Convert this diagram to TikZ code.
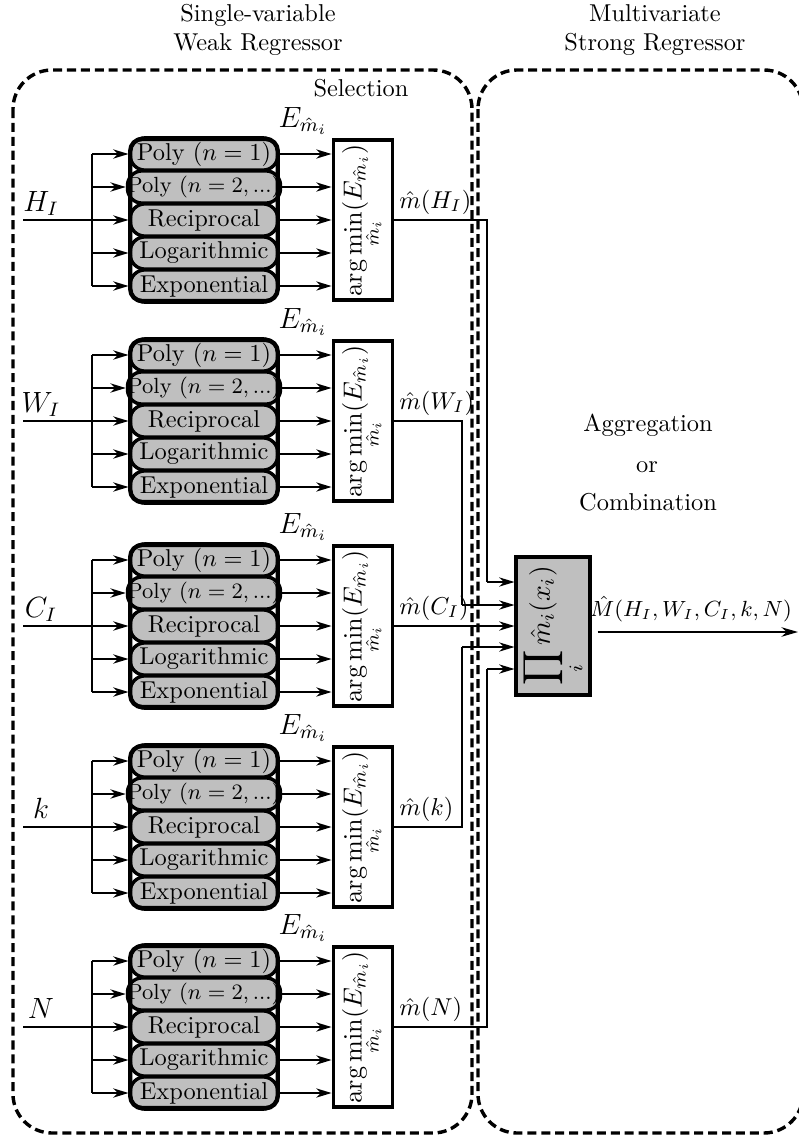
\documentclass[tikz,border=0pt]{standalone}
\usetikzlibrary{arrows.meta,calc}
\begin{document}
\begin{tikzpicture}[x=0.41pt,y=-0.41pt,
  pill/.style={draw, line width=1.4pt, fill=black!25, rounded corners=6pt,
    minimum width=60.5pt, minimum height=13.2pt, inner sep=0pt},
  cont/.style={draw, line width=1.8pt, rounded corners=5pt,
    minimum width=60.5pt, minimum height=66.5pt, inner sep=0pt},
  amin/.style={draw, line width=1.6pt, minimum width=24.2pt, minimum height=65.5pt, inner sep=0pt},
  prodbox/.style={draw, line width=1.6pt, fill=black!25, minimum width=30pt, minimum height=56.5pt, inner sep=0pt},
  arr/.style={-{Stealth[length=6.3pt,width=3.8pt,inset=2pt]}, line width=0.75pt},
  route/.style={line width=0.55pt},
  dbox/.style={draw, line width=1.4pt, dash pattern=on 3.7pt off 2pt, rounded corners=16pt},
  lbl/.style={inner sep=0pt}]
\useasboundingbox (0,0) rectangle (798,1138);

% dashed regions
\draw[dbox] (13,70) rectangle (472,1133);
\draw[dbox] (478,70) rectangle (803,1133);

% titles
\node[align=center] (t1) at (258,30) {Single-variable\\Weak Regressor};
\node[align=center] (t2) at (655,30) {Multivariate\\Strong Regressor};
\node (sel) at (361,88) {Selection};
\node (ag1) at (648,425) {Aggregation};
\node (ag2) at (647,467) {or};
\node (ag3) at (648,502) {Combination};

% product node
\node[prodbox] (prod) at (553,626) {\rotatebox{90}{\scalebox{1.13}{$\displaystyle\prod_i \hat{m}_i(x_i)$}}};

\foreach \i/\lab/\my in {1/H_I/220, 2/W_I/421, 3/C_I/626, 4/k/827, 5/N/1027}{
  \coordinate (in\i) at (23,\my);
  \coordinate (br\i) at (92,\my);
  \node[lbl, anchor=base] (lab\i) at (41,\my-9) {\large$\lab$};
  \node[pill] (p\i-1) at (204,\my-66) {Poly ($n=1$)};
  \node[pill] (p\i-2) at (204,\my-33) {\small Poly ($n=2,...$)};
  \node[pill] (p\i-3) at (204,\my) {Reciprocal};
  \node[pill] (p\i-4) at (204,\my+33) {Logarithmic};
  \node[pill] (p\i-5) at (204,\my+66) {Exponential};
  \node[cont] (c\i) at (204,\my) {};
  \node[amin] (am\i) at (363,\my) {\rotatebox{90}{\scalebox{1.07}{$\displaystyle\arg\min_{\hat{m}_i}(E_{\hat{m}_i})$}}};
  \node[lbl] (e\i) at (303,\my-99) {\large$E_{\hat{m}_i}$};
  \node[lbl, anchor=base west] (o\i) at (399,\my-12) {$\hat{m}(\lab)$};
  % inputs
  \draw[arr] (in\i) -- (p\i-3.west);
  \draw[line width=0.75pt] (br\i |- p\i-1.west) -- (br\i |- p\i-5.west);
  \foreach \r in {1,2,4,5}{
    \draw[arr] (br\i |- p\i-\r.west) -- (p\i-\r.west);
  }
  \foreach \r in {1,...,5}{
    \draw[arr] (p\i-\r.east) -- (am\i.west |- p\i-\r.east);
  }
}

% routes to product
\coordinate (jA) at (487,0);
\coordinate (jB) at (462,0);
\coordinate (q1) at ($(prod.west)+(0,-44)$);
\coordinate (q2) at ($(prod.west)+(0,-21)$);
\coordinate (q4) at ($(prod.west)+(0,21)$);
\coordinate (q5) at ($(prod.west)+(0,43)$);
\draw[route] (am1.east) -| (jA |- q1);
\draw[arr, route] (jA |- q1) -- (q1);
\draw[route] (am2.east) -| (jB |- q2);
\draw[arr, route] (jB |- q2) -- (q2);
\draw[arr, route] (am3.east) -- (am3.east -| prod.west);
\draw[route] (am4.east) -| (jB |- q4);
\draw[arr, route] (jB |- q4) -- (q4);
\draw[route] (am5.east) -| (jA |- q5);
\draw[arr, route] (jA |- q5) -- (q5);

% output
\coordinate (ostart) at ($(prod.east)+(6,6)$);
\coordinate (oend) at (798,632);
\draw[-{Stealth[length=6.8pt,width=3.9pt,inset=2.2pt]}, line width=0.75pt] (ostart) -- (oend);
\node (olab) at (691,609) {\small$\hat{M}(H_I,W_I,C_I,k,N)$};
\end{tikzpicture}
\end{document}
